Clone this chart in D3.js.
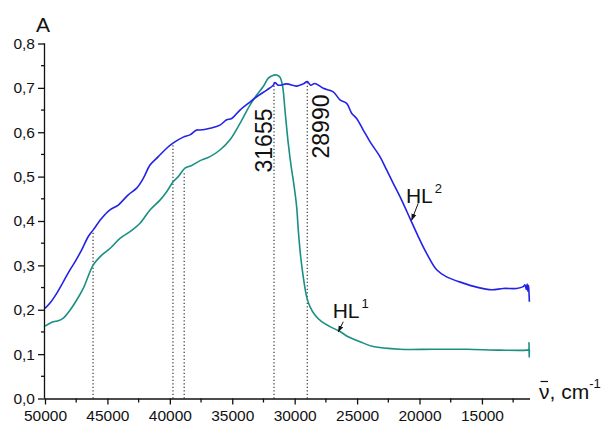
<!DOCTYPE html>
<html>
<head>
<meta charset="utf-8">
<script src="https://cdn.jsdelivr.net/npm/d3@7"></script>
<style>
  html, body { margin: 0; padding: 0; background: #fff; }
  svg { display: block; font-family: "Liberation Sans", Arial, sans-serif; }
</style>
</head>
<body>
<svg id="chart" width="605" height="426"></svg>
<script>
// ---------- data (wavenumber cm^-1, absorbance) ----------
const hl2 = [
  [50000,0.203],[49600,0.215],[49063,0.237],[48534,0.263],[47998,0.290],[47597,0.308],
  [47061,0.335],[46532,0.365],[46132,0.380],[45459,0.406],[44795,0.425],[44130,0.436],
  [43329,0.459],[42656,0.474],[42127,0.496],[41590,0.526],[40926,0.545],[40253,0.564],
  [39724,0.576],[38923,0.589],[38387,0.594],[37850,0.605],[37586,0.605],[36785,0.609],
  [35984,0.616],[35447,0.628],[35047,0.631],[34382,0.650],[33717,0.665],[33044,0.680],
  [32243,0.695],[31715,0.706],[31579,0.712],[31315,0.706],[30642,0.709],[29841,0.704],
  [29313,0.709],[28992,0.714],[28720,0.706],[28376,0.710],[27711,0.699],[26910,0.691],
  [26373,0.673],[25837,0.665],[25437,0.643],[25036,0.631],[24507,0.605],[23971,0.579],
  [23170,0.545],[22633,0.515],[22105,0.485],[21432,0.447],[20767,0.406],[20102,0.365],
  [19430,0.327],[18629,0.290],[17828,0.274],[16498,0.260],[15425,0.251],[14224,0.245],
  [13295,0.248],[12222,0.248],[11692,0.252],[11550,0.256],[11450,0.246],[11380,0.258],
  [11320,0.242],[11270,0.255],[11230,0.238],[11200,0.218]
];
const hl1 = [
  [50000,0.163],[49335,0.173],[48935,0.175],[48534,0.181],[47998,0.199],[47461,0.222],
  [46933,0.248],[46132,0.301],[45459,0.323],[44795,0.338],[43993,0.361],[43192,0.376],
  [42391,0.395],[41590,0.425],[40790,0.447],[40253,0.466],[39724,0.489],[39324,0.500],
  [38787,0.519],[38251,0.525],[37642,0.535],[36785,0.545],[35984,0.560],[35183,0.583],
  [34382,0.620],[33581,0.661],[33044,0.684],[32516,0.703],[32115,0.722],[31843,0.727],
  [31443,0.729],[31179,0.724],[30963,0.703],[30778,0.650],[30514,0.575],[30242,0.515],
  [30114,0.492],[29841,0.432],[29713,0.380],[29521,0.320],[29313,0.274],[29041,0.229],
  [28776,0.207],[28376,0.188],[27839,0.173],[27174,0.162],[26373,0.151],[25709,0.139],
  [24772,0.128],[23707,0.117],[21568,0.111],[18901,0.111],[16226,0.111],[13559,0.109],
  [11420,0.109],[11260,0.110],[11230,0.126],[11215,0.093],[11200,0.110]
];
const xTickValues = [50000,45000,40000,35000,30000,25000,20000,15000];
const yTickValues = [0,0.1,0.2,0.3,0.4,0.5,0.6,0.7,0.8];
const markerWavenumbers = [46150, 39750, 38850, 31655, 28990];
const markerTops = [0.378, 0.575, 0.512, 0.712, 0.712];
const peakLabels = ["31655", "28990"];
const peakLabelWavenumbers = [31655, 28990];
const seriesNames = ["HL", "HL"];
const seriesSup = ["1", "2"];

// ---------- layout ----------
const svg = d3.select("#chart");
const mLeft = 45, mRight = 530, mTop = 43.5, mBottom = 398.5;
const x = d3.scaleLinear().domain([50000, 11150]).range([mLeft, mRight]);
const y = d3.scaleLinear().domain([0, 0.8]).range([mBottom, mTop]);
const blue = "#2222e8", green = "#1a8f84";

// arrow marker
svg.append("defs").append("marker")
  .attr("id", "ah").attr("viewBox", "0 0 10 10").attr("refX", 9).attr("refY", 5)
  .attr("markerWidth", 7).attr("markerHeight", 7).attr("orient", "auto")
  .append("path").attr("d", "M0,1.5 L10,5 L0,8.5 z").attr("fill", "#111");

// dotted marker lines
markerWavenumbers.forEach((v, i) => {
  svg.append("line")
    .attr("x1", x(v)).attr("x2", x(v))
    .attr("y1", y(0)).attr("y2", y(markerTops[i]))
    .attr("stroke", "#444").attr("stroke-width", 1.3)
    .attr("stroke-dasharray", "1.3,2.2");
});

// curves
const lineGen = d3.line().x(d => x(d[0])).y(d => y(d[1])).curve(d3.curveCatmullRom.alpha(0.5));
svg.append("path").datum(hl1).attr("d", lineGen)
  .attr("fill", "none").attr("stroke", green).attr("stroke-width", 1.6);
svg.append("path").datum(hl2).attr("d", lineGen)
  .attr("fill", "none").attr("stroke", blue).attr("stroke-width", 1.6);

// axes
const yAxis = d3.axisLeft(y).tickValues(yTickValues).tickSize(7).tickPadding(3)
  .tickFormat(d => d3.format(".1f")(d).replace(".", ","));
const gy = svg.append("g").attr("transform", `translate(${mLeft},0)`).call(yAxis);
const xAxis = d3.axisBottom(x).tickValues(xTickValues).tickSize(6).tickPadding(5)
  .tickFormat(d3.format("d"));
const gx = svg.append("g").attr("transform", `translate(0,${mBottom})`).call(xAxis);
[gx, gy].forEach(g => {
  g.select(".domain").attr("stroke", "#111").attr("stroke-width", 1.3);
  g.selectAll(".tick line").attr("stroke", "#111").attr("stroke-width", 1.3);
  g.selectAll("text").attr("font-size", 15.5).attr("fill", "#111")
    .attr("font-family", "'Liberation Sans', Arial, sans-serif");
});
gx.select(".domain").attr("d", `M${mLeft},0.5H${mRight}`);
gy.select(".domain").attr("d", `M-0.5,${mBottom}V${mTop}`);
// minor ticks
const yMinor = d3.range(0.05, 0.8, 0.1);
gy.selectAll(".minor").data(yMinor).enter().append("line")
  .attr("x1", 0).attr("x2", -4).attr("y1", d => y(d)).attr("y2", d => y(d))
  .attr("stroke", "#111").attr("stroke-width", 1.3);
const xMinor = d3.range(47500, 11500, -5000);
gx.selectAll(".minor").data(xMinor).enter().append("line")
  .attr("x1", d => x(d)).attr("x2", d => x(d)).attr("y1", 0).attr("y2", 4)
  .attr("stroke", "#111").attr("stroke-width", 1.3);

// axis titles
svg.append("text").attr("x", 36).attr("y", 31.5).attr("font-size", 21).attr("fill", "#111").text("A");
const xt = svg.append("text").attr("x", 539).attr("y", 398.5).attr("font-size", 21).attr("fill", "#111");
const nu = xt.append("tspan").text("ν");
xt.append("tspan").text(", cm");
xt.append("tspan").attr("font-size", 13).attr("dy", -11).text("-1");
const nuW = xt.node().getSubStringLength(0, 1);
svg.append("line").attr("x1", 539 + 1.5).attr("x2", 539 + nuW - 1.5)
  .attr("y1", 381.5).attr("y2", 381.5).attr("stroke", "#111").attr("stroke-width", 1.2);

// peak labels (rotated)
const peakOffsets = [-2, 22];
const peakCenters = [140.5, 126.5];
peakLabelWavenumbers.forEach((v, i) => {
  const px = x(v) + peakOffsets[i];
  svg.append("text")
    .attr("transform", `translate(${px},${peakCenters[i]}) rotate(-90)`)
    .attr("text-anchor", "middle").attr("font-size", 23).attr("fill", "#111")
    .text(peakLabels[i]);
});

// series labels with arrows
const labelPos = [[26958, 0.181], [21087, 0.441]];
const arrows = [[[26109, 0.173], [26510, 0.150]], [[20102, 0.440], [20631, 0.402]]];
[0, 1].forEach(i => {
  const t = svg.append("text").attr("x", x(labelPos[i][0])).attr("y", y(labelPos[i][1]))
    .attr("font-size", 21).attr("fill", "#111");
  t.append("tspan").text(seriesNames[i]);
  t.append("tspan").attr("font-size", 13).attr("dx", 2).attr("dy", -10).text(seriesSup[i]);
  svg.append("line")
    .attr("x1", x(arrows[i][0][0])).attr("y1", y(arrows[i][0][1]))
    .attr("x2", x(arrows[i][1][0])).attr("y2", y(arrows[i][1][1]))
    .attr("stroke", "#111").attr("stroke-width", 1).attr("marker-end", "url(#ah)");
});
</script>
</body>
</html>
